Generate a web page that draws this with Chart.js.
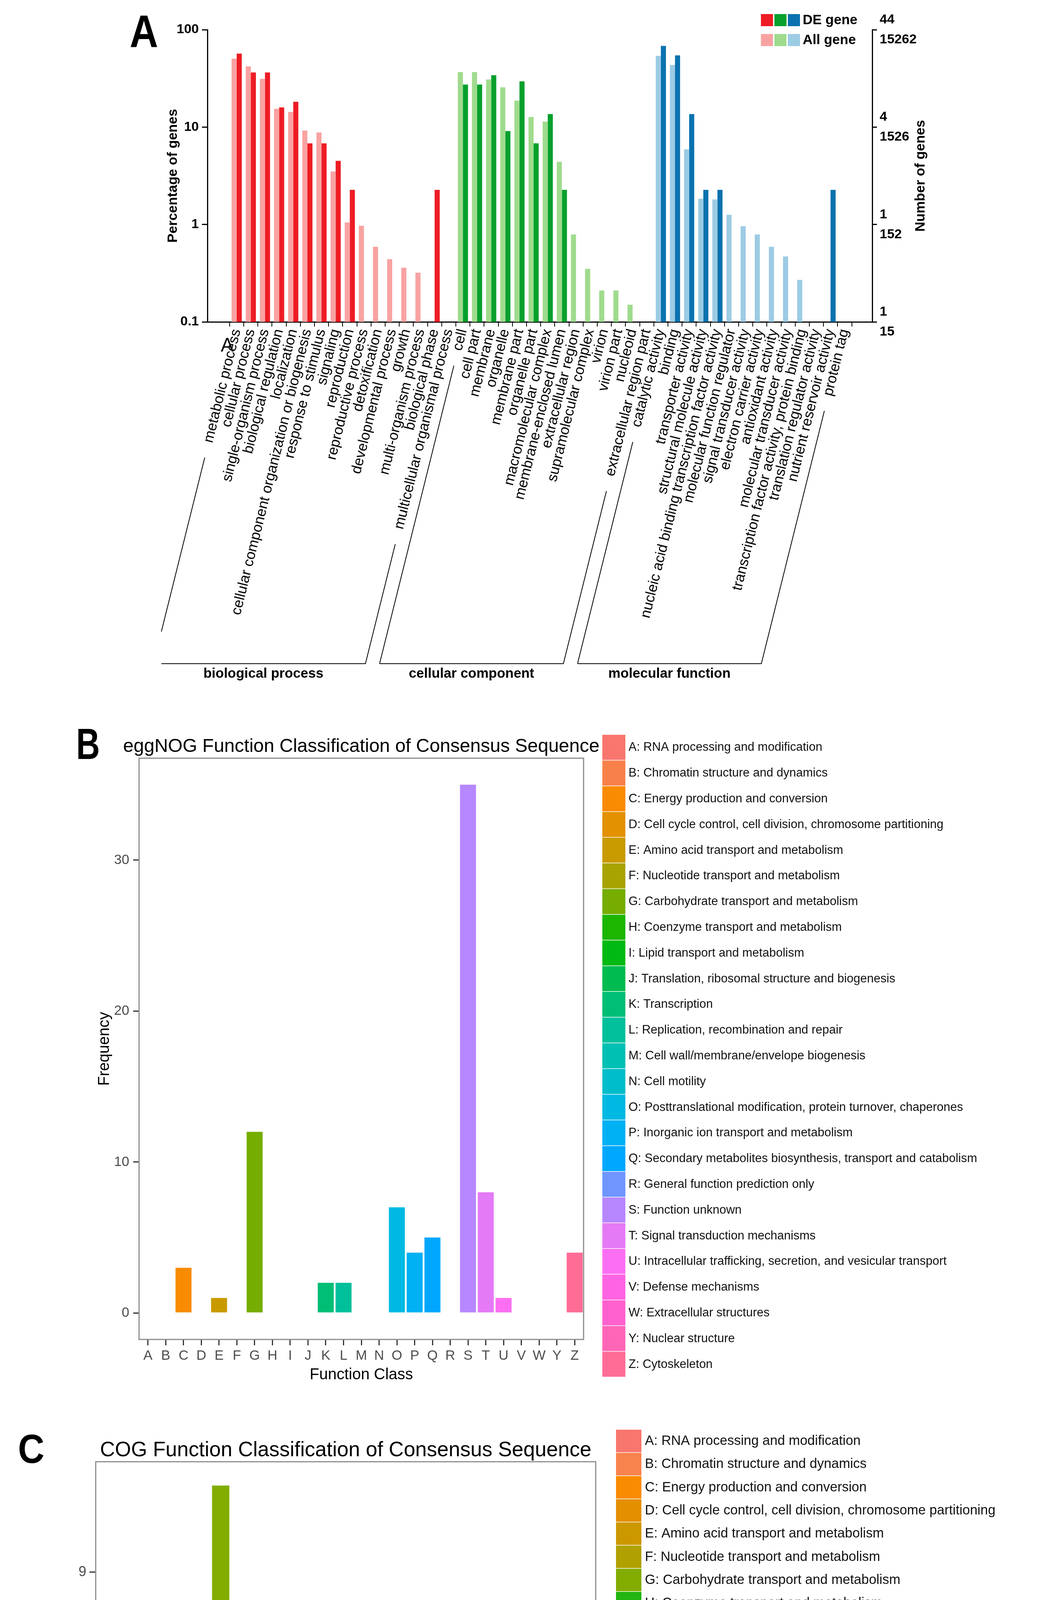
<!DOCTYPE html>
<html>
<head>
<meta charset="utf-8">
<script src="https://cdn.jsdelivr.net/npm/chart.js@4.4.1/dist/chart.umd.min.js"></script>
<style>
  html, body { margin: 0; padding: 0; background: #fff; }
  body { width: 2706px; height: 5232px; position: relative; overflow: hidden; }
  canvas { position: absolute; left: 0; }
</style>
</head>
<body>
<canvas id="goChart" width="2706" height="1780" style="top:0;width:2706px;height:1780px"></canvas>
<canvas id="eggChart" width="2706" height="1800" style="top:1750px;width:2706px;height:1800px"></canvas>
<canvas id="cogChart" width="2706" height="1682" style="top:3550px;width:2706px;height:1682px"></canvas>
<script>
// ---- data: panel A (GO) ----
const goLabels = [
  "metabolic process", "cellular process", "single-organism process", "biological regulation",
  "localization", "cellular component organization or biogenesis", "response to stimulus", "signaling",
  "reproduction", "reproductive process", "detoxification", "developmental process", "growth",
  "multi-organism process", "biological phase", "multicellular organismal process",
  "cell", "cell part", "membrane", "organelle", "membrane part", "organelle part",
  "macromolecular complex", "membrane-enclosed lumen", "extracellular region", "supramolecular complex",
  "virion", "virion part", "nucleoid", "extracellular region part",
  "catalytic activity", "binding", "transporter activity", "structural molecule activity",
  "nucleic acid binding transcription factor activity", "molecular function regulator",
  "signal transducer activity", "electron carrier activity", "antioxidant activity",
  "molecular transducer activity", "transcription factor activity, protein binding",
  "translation regulator activity", "nutrient reservoir activity", "protein tag"
];
const goGroups = ["biological process", "cellular component", "molecular function"];
const goGroupSize = [16, 14, 14];
const allGenePct = [
  50.4, 42.1, 31.3, 15.4, 14.3, 9.2, 8.8, 3.5, 1.05, 0.97, 0.59, 0.44, 0.36, 0.32, null, null,
  36.7, 36.7, 30.8, 25.6, 18.7, 12.7, 11.4, 4.4, 0.79, 0.35, 0.21, 0.21, 0.15, null,
  53.8, 43.5, 5.9, 1.84, 1.81, 1.26, 0.96, 0.79, 0.59, 0.47, 0.27, null, null, null
];
const deGenePct = [
  56.8, 36.4, 36.4, 15.9, 18.2, 6.8, 6.8, 4.5, 2.27, null, null, null, null, null, 2.27, null,
  27.3, 27.3, 34.1, 9.1, 29.5, 6.8, 13.6, 2.27, null, null, null, null, null, null,
  68.2, 54.5, 13.6, 2.27, 2.27, null, null, null, null, null, null, null, 2.27, null
];
const pctTicks = [0.1, 1, 10, 100];
const deCountTicks = ["1", "1", "4", "44"];
const allCountTicks = ["15", "152", "1526", "15262"];

// ---- data: panels B and C ----
const cogClasses = "ABCDEFGHIJKLMNOPQRSTUVWXYZ".split("");
const cogDesc = [
  "RNA processing and modification", "Chromatin structure and dynamics", "Energy production and conversion",
  "Cell cycle control, cell division, chromosome partitioning", "Amino acid transport and metabolism",
  "Nucleotide transport and metabolism", "Carbohydrate transport and metabolism", "Coenzyme transport and metabolism",
  "Lipid transport and metabolism", "Translation, ribosomal structure and biogenesis", "Transcription",
  "Replication, recombination and repair", "Cell wall/membrane/envelope biogenesis", "Cell motility",
  "Posttranslational modification, protein turnover, chaperones", "Inorganic ion transport and metabolism",
  "Secondary metabolites biosynthesis, transport and catabolism", "General function prediction only",
  "Function unknown", "Signal transduction mechanisms",
  "Intracellular trafficking, secretion, and vesicular transport", "Defense mechanisms",
  "Extracellular structures", "Mobilome: prophages, transposons", "Nuclear structure", "Cytoskeleton"
];
const cogFreq = [0, 0, 3, 0, 1, 0, 11, 1, 1, 0, 0, 0, 2, 2, 3, 3, 6, 5, 1, 5, 2, 5, 0, 0, 0, 0];
const eggClasses = cogClasses.filter(c => c !== "X");
const eggDesc = cogDesc.filter((d, i) => cogClasses[i] !== "X");
const eggFreq = [0, 0, 3, 0, 1, 0, 12, 0, 0, 0, 2, 2, 0, 0, 7, 4, 5, 0, 35, 8, 1, 0, 0, 0, 4];

// ---- styles ----
const FONT = "'Liberation Sans', Arial, Helvetica, sans-serif";
Chart.defaults.font.family = FONT;
const goDark = ["#ee1c24", "#06a02c", "#0a72af"];
const goLight = ["#f9a2a2", "#9fdb8d", "#9ccbe4"];
const eggColors = ["#f8766d", "#f8814a", "#f98b00", "#e39100", "#c99a00", "#a9a300", "#76ad00", "#1cb500",
  "#00b912", "#00bb50", "#00be76", "#00c09c", "#00c0b3", "#00bdcb", "#00b9e2", "#00b1f4", "#00a7ff",
  "#6f96ff", "#b687ff", "#e57af6", "#fc6ff3", "#ff64e3", "#ff61cf", "#ff65b7", "#ff6c96"];
const cogColors = ["#f8766d", "#f8834d", "#f98b00", "#e38f00", "#cc9800", "#b0a100", "#82ad00", "#23b510",
  "#00ba00", "#00bb4a", "#00be6e", "#00bf8f", "#00c0aa", "#00bebd", "#00bcd5", "#00b7ea", "#00aefa",
  "#00a1ff", "#8a91ff", "#c47fff", "#e97af4", "#ff69ef", "#ff63dd", "#ff62c8", "#ff66b1", "#ff6b93"];

function groupOf(i) {
  let acc = 0;
  for (let g = 0; g < goGroupSize.length; g++) { acc += goGroupSize[g]; if (i < acc) return g; }
  return goGroupSize.length - 1;
}

function panelLetter(ctx, letter, x, y, size, sx) {
  ctx.save();
  ctx.translate(x, y);
  ctx.scale(sx, 1);
  ctx.fillStyle = "#000";
  ctx.font = `bold ${size}px ${FONT}`;
  ctx.textAlign = "left";
  ctx.textBaseline = "alphabetic";
  ctx.fillText(letter, 0, 0);
  ctx.restore();
}

function vText(ctx, text, x, y, font) {
  ctx.save();
  ctx.translate(x, y);
  ctx.rotate(-Math.PI / 2);
  ctx.font = font;
  ctx.fillStyle = "#000";
  ctx.textAlign = "center";
  ctx.textBaseline = "middle";
  ctx.fillText(text, 0, 0);
  ctx.restore();
}

// ---- panel A ----
const ROT = 76;
const X_FONT = 37;

const goDecor = {
  id: "goDecor",
  afterDraw(chart) {
    const ctx = chart.ctx, ca = chart.chartArea, xs = chart.scales.x;
    const midY = (ca.top + ca.bottom) / 2;
    vText(ctx, "Percentage of genes", 443, midY, `bold 35px ${FONT}`);
    vText(ctx, "Number of genes", 2357, midY, `bold 35px ${FONT}`);

    // legend
    ctx.save();
    [0, 1, 2].forEach(g => {
      ctx.fillStyle = goDark[g];
      ctx.fillRect(1948 + g * 34.5, 36, 31, 31);
      ctx.fillStyle = goLight[g];
      ctx.fillRect(1948 + g * 34.5, 87, 31, 31);
    });
    ctx.fillStyle = "#000";
    ctx.font = `bold 35px ${FONT}`;
    ctx.textBaseline = "middle";
    ctx.fillText("DE gene", 2055, 52);
    ctx.fillText("All gene", 2055, 103);
    ctx.restore();

    panelLetter(ctx, "A", 332, 121, 116, 0.87);
    // stray small "A" over the first label in the original figure
    ctx.save();
    ctx.font = `50px ${FONT}`;
    ctx.fillStyle = "#111";
    ctx.fillText("A", 565, 900);
    ctx.restore();

    // group brackets following the label slant
    const th = ROT * Math.PI / 180, c = Math.cos(th), s = Math.sin(th);
    const lh = X_FONT * 1.2;
    const y0 = xs.top + 12 + 2 + lh / 2 * c;
    const baseY = 1699;
    ctx.save();
    ctx.font = `${X_FONT}px ${FONT}`;
    ctx.strokeStyle = "#000";
    ctx.lineWidth = 2;
    let start = 0;
    goGroups.forEach((name, gi) => {
      const i0 = start, i1 = start + goGroupSize[gi] - 1;
      start += goGroupSize[gi];
      const edge = (i, cut) => {
        const ax = xs.getPixelForValue(i);
        const L = ctx.measureText(goLabels[i]).width + 40;
        const yEnd = baseY - cut;
        const t = (yEnd - y0) / s;
        return { x0: ax - L * c, y0: y0 + L * s, x1: ax - t * c, y1: yEnd };
      };
      const a = edge(i0, gi === 0 ? 82 : 0), b = edge(i1, 0);
      ctx.beginPath();
      ctx.moveTo(a.x0, a.y0); ctx.lineTo(a.x1, a.y1);
      ctx.moveTo(a.x1, baseY); ctx.lineTo(b.x1, baseY); ctx.lineTo(b.x0, b.y0);
      ctx.stroke();
      ctx.save();
      ctx.font = `bold 35px ${FONT}`;
      ctx.fillStyle = "#000";
      ctx.textAlign = "center";
      ctx.textBaseline = "middle";
      ctx.fillText(name, (a.x1 + b.x1) / 2, 1725);
      ctx.restore();
    });
    ctx.restore();
  }
};

new Chart(document.getElementById("goChart"), {
  type: "bar",
  data: {
    datasets: [
      {
        label: "All gene",
        data: allGenePct.map((v, i) => ({ x: i, y: v })),
        backgroundColor: goLabels.map((_, i) => goLight[groupOf(i)]),
        categoryPercentage: 0.72, barPercentage: 1.0, borderWidth: 0
      },
      {
        label: "DE gene",
        data: deGenePct.map((v, i) => ({ x: i, y: v })),
        backgroundColor: goLabels.map((_, i) => goDark[groupOf(i)]),
        categoryPercentage: 0.72, barPercentage: 1.0, borderWidth: 0
      }
    ]
  },
  options: {
    responsive: false, animation: false, devicePixelRatio: 1,
    layout: { padding: { top: 76, right: 343, left: 0, bottom: 0 } },
    plugins: { legend: { display: false }, tooltip: { enabled: false } },
    scales: {
      x: {
        type: "linear", min: -2.07, max: 44.95, bounds: "data", offset: false,
        afterBuildTicks: s => { s.ticks = goLabels.map((_, i) => ({ value: i })); },
        afterFit: s => { s.height = 1780 - 824; },
        ticks: {
          autoSkip: false, minRotation: ROT, maxRotation: ROT, padding: 2, color: "#000",
          font: { size: X_FONT }, callback: (v, i) => goLabels[i]
        },
        grid: { drawOnChartArea: false, offset: true, tickLength: 12, color: "#000", lineWidth: 2 },
        border: { color: "#000", width: 3 }
      },
      y: {
        type: "logarithmic", position: "left", min: 0.1, max: 100, bounds: "data",
        afterBuildTicks: s => { s.ticks = pctTicks.map(v => ({ value: v })); },
        afterFit: s => { s.width = 531; },
        ticks: { color: "#000", padding: 8, font: { size: 34, weight: "bold" }, callback: v => String(v) },
        grid: { drawOnChartArea: false, tickLength: 14, color: "#000", lineWidth: 3 },
        border: { color: "#000", width: 3 }
      },
      y2: {
        type: "logarithmic", position: "right", min: 0.1, max: 100, bounds: "data",
        afterBuildTicks: s => { s.ticks = pctTicks.map(v => ({ value: v })); },
        afterFit: s => { s.width = 130; },
        ticks: {
          color: "#000", padding: 7, font: { size: 34, weight: "bold", lineHeight: 1.5 },
          callback: (v, i) => [deCountTicks[i], allCountTicks[i]]
        },
        grid: { drawOnChartArea: false, tickLength: 12, color: "#000", lineWidth: 3 },
        border: { color: "#000", width: 3 }
      }
    }
  },
  plugins: [goDecor]
});

// ---- panels B and C ----
function freqChart(id, cfg) {
  const H = cfg.H;
  const decor = {
    id: "freqDecor",
    afterDraw(chart) {
      const ctx = chart.ctx, ca = chart.chartArea;
      const cx = (ca.left + ca.right) / 2;
      ctx.save();
      ctx.strokeStyle = "#8c8c8c";
      ctx.lineWidth = 3;
      ctx.strokeRect(ca.left, ca.top, ca.right - ca.left, ca.bottom - ca.top);
      ctx.fillStyle = "#000";
      ctx.textAlign = "center";
      ctx.font = `${cfg.titleFont}px ${FONT}`;
      ctx.textBaseline = "alphabetic";
      ctx.fillText(cfg.title, cx, cfg.titleY);
      ctx.font = `${cfg.axisFont}px ${FONT}`;
      ctx.textBaseline = "middle";
      ctx.fillText("Function Class", cx, cfg.xTitleY);
      ctx.restore();
      vText(ctx, "Frequency", cfg.yTitleX, (ca.top + ca.bottom) / 2, `${cfg.axisFont}px ${FONT}`);
      panelLetter(ctx, cfg.letter, cfg.letterX, cfg.letterY, cfg.letterSize, cfg.letterSx);

      // legend: one colour key per class
      const lg = cfg.legend;
      ctx.save();
      ctx.font = `${lg.font}px ${FONT}`;
      ctx.textBaseline = "middle";
      ctx.textAlign = "left";
      cfg.classes.forEach((cl, i) => {
        const y = lg.top + i * lg.h;
        ctx.fillStyle = cfg.colors[i];
        ctx.fillRect(lg.x, y, lg.w, lg.h - 1.5);
        ctx.fillStyle = "#111";
        ctx.fillText(`${cl}: ${cfg.desc[i]}`, lg.textX, y + lg.h / 2);
      });
      ctx.restore();
    }
  };
  return new Chart(document.getElementById(id), {
    type: "bar",
    data: {
      labels: cfg.classes,
      datasets: [{ data: cfg.freq, backgroundColor: cfg.colors, barPercentage: 0.9, categoryPercentage: 1.0, borderWidth: 0 }]
    },
    options: {
      responsive: false, animation: false, devicePixelRatio: 1,
      layout: { padding: { top: cfg.area.top, right: 2706 - cfg.area.right, left: 0, bottom: 0 } },
      plugins: { legend: { display: false }, tooltip: { enabled: false } },
      scales: {
        x: {
          offset: true,
          afterFit: s => { s.height = H - cfg.area.bottom; },
          ticks: { color: "#4d4d4d", font: { size: cfg.tickFont }, padding: cfg.xPad, autoSkip: false, maxRotation: 0 },
          grid: { drawOnChartArea: false, offset: false, tickLength: cfg.tickLen, color: "#333", lineWidth: 3 },
          border: { display: false }
        },
        y: {
          min: cfg.yMin, max: cfg.yMax,
          afterBuildTicks: s => { s.ticks = cfg.yTicks.map(v => ({ value: v })); },
          afterFit: s => { s.width = cfg.area.left; },
          ticks: { color: "#4d4d4d", font: { size: cfg.tickFont }, padding: cfg.yPad },
          grid: { drawOnChartArea: false, tickLength: cfg.tickLen, color: "#333", lineWidth: 3 },
          border: { display: false }
        }
      }
    },
    plugins: [decor]
  });
}

freqChart("eggChart", {
  H: 1800, classes: eggClasses, freq: eggFreq, colors: eggColors, desc: eggDesc,
  yMin: -1.75, yMax: 36.75, yTicks: [0, 10, 20, 30],
  area: { left: 356, right: 1494, top: 191, bottom: 1679 },
  tickFont: 35, tickLen: 15, xPad: 6, yPad: 10,
  title: "eggNOG Function Classification of Consensus Sequence", titleFont: 48, titleY: 175,
  axisFont: 40, xTitleY: 1770, yTitleX: 268,
  letter: "B", letterX: 195, letterY: 193, letterSize: 112, letterSx: 0.75,
  legend: { x: 1542, w: 59, top: 131, h: 65.8, textX: 1609, font: 31 }
});

freqChart("cogChart", {
  H: 1682, classes: cogClasses, freq: cogFreq, colors: cogColors, desc: cogDesc,
  yMin: -0.55, yMax: 11.55, yTicks: [0, 3, 6, 9],
  area: { left: 245, right: 1525, top: 192, bottom: 1534 },
  tickFont: 36, tickLen: 16, xPad: 1, yPad: 8,
  title: "COG Function Classification of Consensus Sequence", titleFont: 53, titleY: 178,
  axisFont: 43, xTitleY: 1616, yTitleX: 171,
  letter: "C", letterX: 46, letterY: 195, letterSize: 104, letterSx: 0.9,
  legend: { x: 1577, w: 65, top: 110, h: 59.3, textX: 1651, font: 34.5 }
});
</script>
</body>
</html>
